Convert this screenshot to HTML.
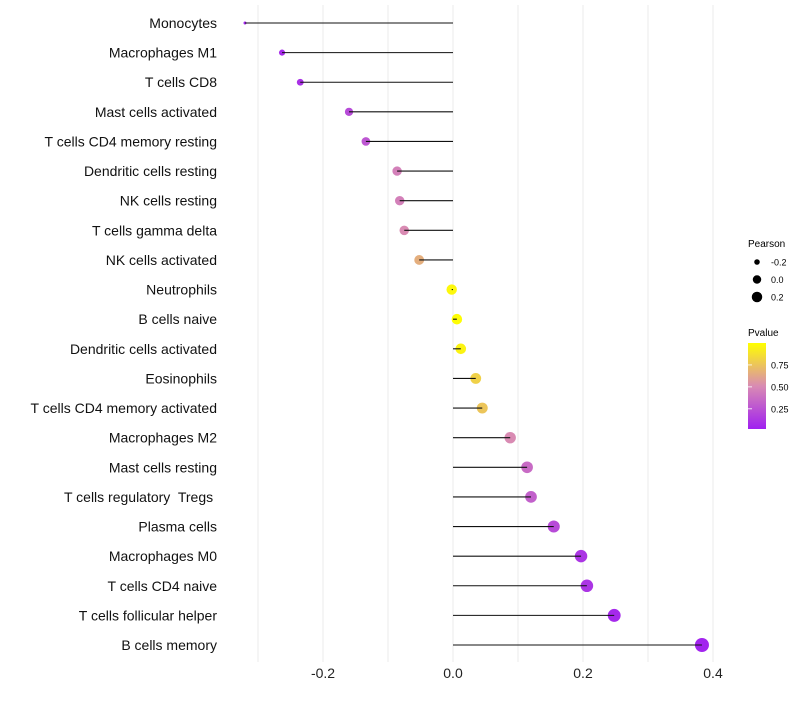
<!DOCTYPE html>
<html><head><meta charset="utf-8"><style>
body{margin:0;background:#fff;font-family:"Liberation Sans",sans-serif;}
svg text{font-family:"Liberation Sans",sans-serif;white-space:pre;}
</style></head><body>
<svg id="chart" width="800" height="700" xmlns="http://www.w3.org/2000/svg" xml:space="preserve">
<g id="grid"></g>
<g id="ylabels"></g>
<g id="xlabels"></g>
<g id="dots"></g>
<g id="marks"></g>
<g id="legend">
<text x="748" y="247" font-size="10">Pearson</text>
<g id="sizeleg"></g>
<text x="748" y="336" font-size="10">Pvalue</text>
<defs><linearGradient id="pg" x1="0" y1="1" x2="0" y2="0">
<stop offset="0" stop-color="#A020F0"/><stop offset="0.5" stop-color="#D98BB3"/><stop offset="1" stop-color="#FFFF00"/></linearGradient></defs>
<rect x="748" y="343" width="18" height="86" fill="url(#pg)"/>
<g id="colorleg"></g>
</g>
</svg>
<script>
const categories=["Monocytes","Macrophages M1","T cells CD8","Mast cells activated","T cells CD4 memory resting","Dendritic cells resting","NK cells resting","T cells gamma delta","NK cells activated","Neutrophils","B cells naive","Dendritic cells activated","Eosinophils","T cells CD4 memory activated","Macrophages M2","Mast cells resting","T cells regulatory  Tregs ","Plasma cells","Macrophages M0","T cells CD4 naive","T cells follicular helper","B cells memory"];
const pearson=[-0.32,-0.263,-0.235,-0.16,-0.134,-0.086,-0.082,-0.075,-0.052,-0.002,0.006,0.012,0.035,0.045,0.088,0.114,0.12,0.155,0.197,0.206,0.248,0.383];
const pvalue=[0.02,0.05,0.08,0.2,0.25,0.45,0.45,0.5,0.65,0.97,0.99,0.95,0.8,0.75,0.5,0.35,0.3,0.2,0.1,0.1,0.04,0.02];
const xTicks=[-0.2,0,0.2,0.4];
const xTickLabels=["-0.2","0.0","0.2","0.4"];
const gridVals=[-0.3,-0.2,-0.1,0,0.1,0.2,0.3,0.4];
const sizeLegendVals=[-0.2,0,0.2];
const sizeLegendLabels=["-0.2","0.0","0.2"];
const colorTicks=[0.25,0.5,0.75];
const colorTickLabels=["0.25","0.50","0.75"];

const NS="http://www.w3.org/2000/svg";
const X=v=>453+v*650;
const Y=i=>23+i*(645-23)/21;
const R=v=>1.5+5.5*Math.sqrt(Math.max(0,(v+0.32)/0.70));
function lerp(a,b,t){return a.map((x,k)=>Math.round(x+(b[k]-x)*t));}
function col(p){const s=[[160,32,240],[217,139,179],[255,255,0]];
 const c=p<0.5?lerp(s[0],s[1],p/0.5):lerp(s[1],s[2],(p-0.5)/0.5);return `rgb(${c})`;}
function mk(tag,attrs,parent){const e=document.createElementNS(NS,tag);for(const k in attrs)e.setAttribute(k,attrs[k]);document.getElementById(parent).appendChild(e);return e;}

gridVals.forEach(v=>{
 const l=mk("line",{x1:X(v),x2:X(v),y1:5,y2:662,stroke:"#ebebeb","stroke-width":1},"grid");
 
 
});
xTicks.forEach((v,i)=>{
 const t=mk("text",{x:X(v),y:678,"font-size":14,"text-anchor":"middle",fill:"#222"},"xlabels");
 t.textContent=xTickLabels[i];
 
 
});
categories.forEach((c,i)=>{
 const t=mk("text",{x:217,y:Y(i)+5,"font-size":14,"text-anchor":"end",fill:"#111"},"ylabels");
 t.textContent=c;
 
 
 const d=mk("circle",{cx:X(pearson[i]),cy:Y(i),r:R(pearson[i]),fill:col(pvalue[i])},"dots");
 
 
 const l=mk("line",{x1:X(0),x2:X(pearson[i]),y1:Y(i),y2:Y(i),stroke:"#111","stroke-width":1.1},"marks");
 
 
});
sizeLegendVals.forEach((v,i)=>{
 const y=262+i*17.5;
 const c=mk("circle",{cx:757,cy:y,r:R(v)-1,fill:"#000"},"sizeleg");
 
 
 const t=mk("text",{x:771,y:y+3.5,"font-size":9},"sizeleg");
 t.textContent=sizeLegendLabels[i];
 
 
});
colorTicks.forEach((v,i)=>{
 const y=429-(v-0.02)/0.98*86;
 const l=mk("line",{x1:748,x2:752,y1:y,y2:y,stroke:"#fff","stroke-width":0.8},"colorleg");
 
 
 const t=mk("text",{x:771,y:y+3.5,"font-size":9},"colorleg");
 t.textContent=colorTickLabels[i];
 
 
});
</script>
</body></html>
